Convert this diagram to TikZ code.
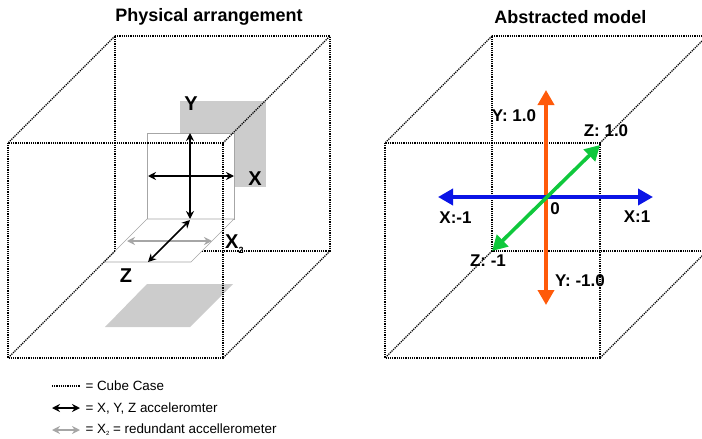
\documentclass[tikz,border=0pt]{standalone}
\usepackage{fontspec}
\setmainfont{Liberation Sans}
\usetikzlibrary{arrows.meta}
\definecolor{panelgrey}{HTML}{CCCCCC}
\definecolor{sensorline}{HTML}{A6A6A6}
\definecolor{xaxis}{HTML}{0A14E6}
\definecolor{yaxis}{HTML}{FF5A0A}
\definecolor{zaxis}{HTML}{0FC83C}
\newcommand{\subtwo}[2]{\raisebox{#1}{\fontsize{#2}{#2}\selectfont 2}}
\tikzset{
  caseline/.style={black,line width=1.3pt,dash pattern=on 1.2pt off 1pt},
  sensor/.style={black,line width=1.7pt,{Stealth[length=8pt,width=8pt]}-{Stealth[length=8pt,width=8pt]}},
  redundant/.style={sensorline,line width=1.7pt,{Stealth[length=8pt,width=8pt]}-{Stealth[length=8pt,width=8pt]}},
  axis/.style={line width=3.6pt,{Triangle[length=15pt,width=16pt]}-{Triangle[length=15pt,width=16pt]}},
  title/.style={font=\fontsize{18}{20}\selectfont\bfseries},
  biglabel/.style={font=\fontsize{20}{22}\selectfont\bfseries},
  axislabel/.style={font=\fontsize{17}{19}\selectfont\bfseries},
  legendtext/.style={font=\fontsize{13.4}{15}\selectfont,anchor=west}
}
\begin{document}
\begin{tikzpicture}[x=1pt,y=-1pt]
  \useasboundingbox (0,0) rectangle (702,439);

  \node[title] (phystitle) at (209,17) {Physical arrangement};
  \node[title] (abstitle) at (570.5,17) {Abstracted model};

  % left cube corners
  \coordinate (lftl) at (8,143);
  \coordinate (lftr) at (223,143);
  \coordinate (lfbl) at (8,358);
  \coordinate (lfbr) at (223,358);
  \coordinate (lbtl) at (115,36);
  \coordinate (lbtr) at (330,36);
  \coordinate (lbbl) at (115,251);
  \coordinate (lbbr) at (330,251);

  % back of left cube
  \draw[caseline] (lbtl) -- (lbtr) -- (lbbr) -- (lbbl) -- cycle;
  \draw[caseline] (lbtl) -- (lftl);
  \draw[caseline] (lbbr) -- (lfbr);

  % shadows
  \fill[panelgrey] (180,101) rectangle (266,187);
  \fill[panelgrey] (147,284) -- (233,284) -- (190,327) -- (105,327) -- cycle;

  % sensor planes
  \draw[sensorline,fill=white,line width=0.7pt] (147,133) rectangle (234,219);
  \draw[sensorline,fill=white,line width=0.7pt] (147,219) -- (234,219) -- (191,262) -- (104,262) -- cycle;

  % front of left cube
  \draw[caseline] (lftl) rectangle (lfbr);
  \draw[caseline] (lftr) -- (lbtr);
  \draw[caseline] (lbbl) -- (lfbl);

  % accelerometers
  \coordinate (yup) at (190,133);
  \coordinate (ydown) at (190,219);
  \coordinate (xleft) at (148,176);
  \coordinate (xright) at (234,176);
  \coordinate (zback) at (190,220);
  \coordinate (zfront) at (148,262);
  \coordinate (xtwoleft) at (127,241);
  \coordinate (xtworight) at (212,241);
  \draw[redundant] (xtwoleft) -- (xtworight);
  \draw[sensor] (yup) -- (ydown);
  \draw[sensor] (xleft) -- (xright);
  \draw[sensor] (zback) -- (zfront);

  \node[biglabel] (ylabel) at (191,104) {Y};
  \node[biglabel] (xlabel) at (255,179) {X};
  \node[biglabel] (zlabel) at (126,276) {Z};
  \node[biglabel,anchor=west,inner sep=0pt] (xtwolabel) at (225,244) {X\subtwo{-5pt}{9}};

  % right cube corners
  \coordinate (rftl) at (385,143);
  \coordinate (rftr) at (600,143);
  \coordinate (rfbl) at (385,358);
  \coordinate (rfbr) at (600,358);
  \coordinate (rbtl) at (492,36);
  \coordinate (rbtr) at (707,36);
  \coordinate (rbbl) at (492,251);
  \coordinate (rbbr) at (707,251);

  \begin{scope}
    \clip (0,0) rectangle (702,439);
    \draw[caseline] (rbtl) -- (rbtr) -- (rbbr) -- (rbbl) -- cycle;
    \draw[caseline] (rbtl) -- (rftl);
    \draw[caseline] (rbbr) -- (rfbr);
    \draw[caseline] (rftl) rectangle (rfbr);
    \draw[caseline] (rftr) -- (rbtr);
    \draw[caseline] (rbbl) -- (rfbl);
  \end{scope}

  % model axes
  \coordinate (axtop) at (546,90);
  \coordinate (axbottom) at (546,305);
  \coordinate (axleft) at (438,197);
  \coordinate (axright) at (653,197);
  \coordinate (axback) at (600,145);
  \coordinate (axfront) at (492,251);
  \draw[axis,yaxis] (axtop) -- (axbottom);
  \draw[axis,xaxis] (axleft) -- (axright);
  \draw[axis,zaxis] (axfront) -- (axback);

  \node[axislabel] (yone) at (514,116) {Y: 1.0};
  \node[axislabel] (zone) at (606,131) {Z: 1.0};
  \node[axislabel] (origin) at (555,209) {0};
  \node[axislabel] (xminus) at (455.5,218) {X:-1};
  \node[axislabel] (xone) at (637,217) {X:1};
  \node[axislabel] (zminus) at (488,261) {Z: -1};
  \node[axislabel] (yminus) at (580,281) {Y: -1.0};

  % legend
  \coordinate (legaa) at (52,386);
  \coordinate (legab) at (80,386);
  \coordinate (legba) at (52,408);
  \coordinate (legbb) at (80,408);
  \coordinate (legca) at (52,430);
  \coordinate (legcb) at (80,430);
  \draw[caseline] (legaa) -- (legab);
  \draw[sensor] (legba) -- (legbb);
  \draw[redundant] (legca) -- (legcb);
  \node[legendtext] (legcase) at (82,386) {= Cube Case};
  \node[legendtext] (legsensor) at (82,408) {= X, Y, Z acceleromter};
  \node[legendtext] (legspare) at (82,430) {= X\subtwo{-2pt}{6} = redundant accellerometer};
\end{tikzpicture}
\end{document}
